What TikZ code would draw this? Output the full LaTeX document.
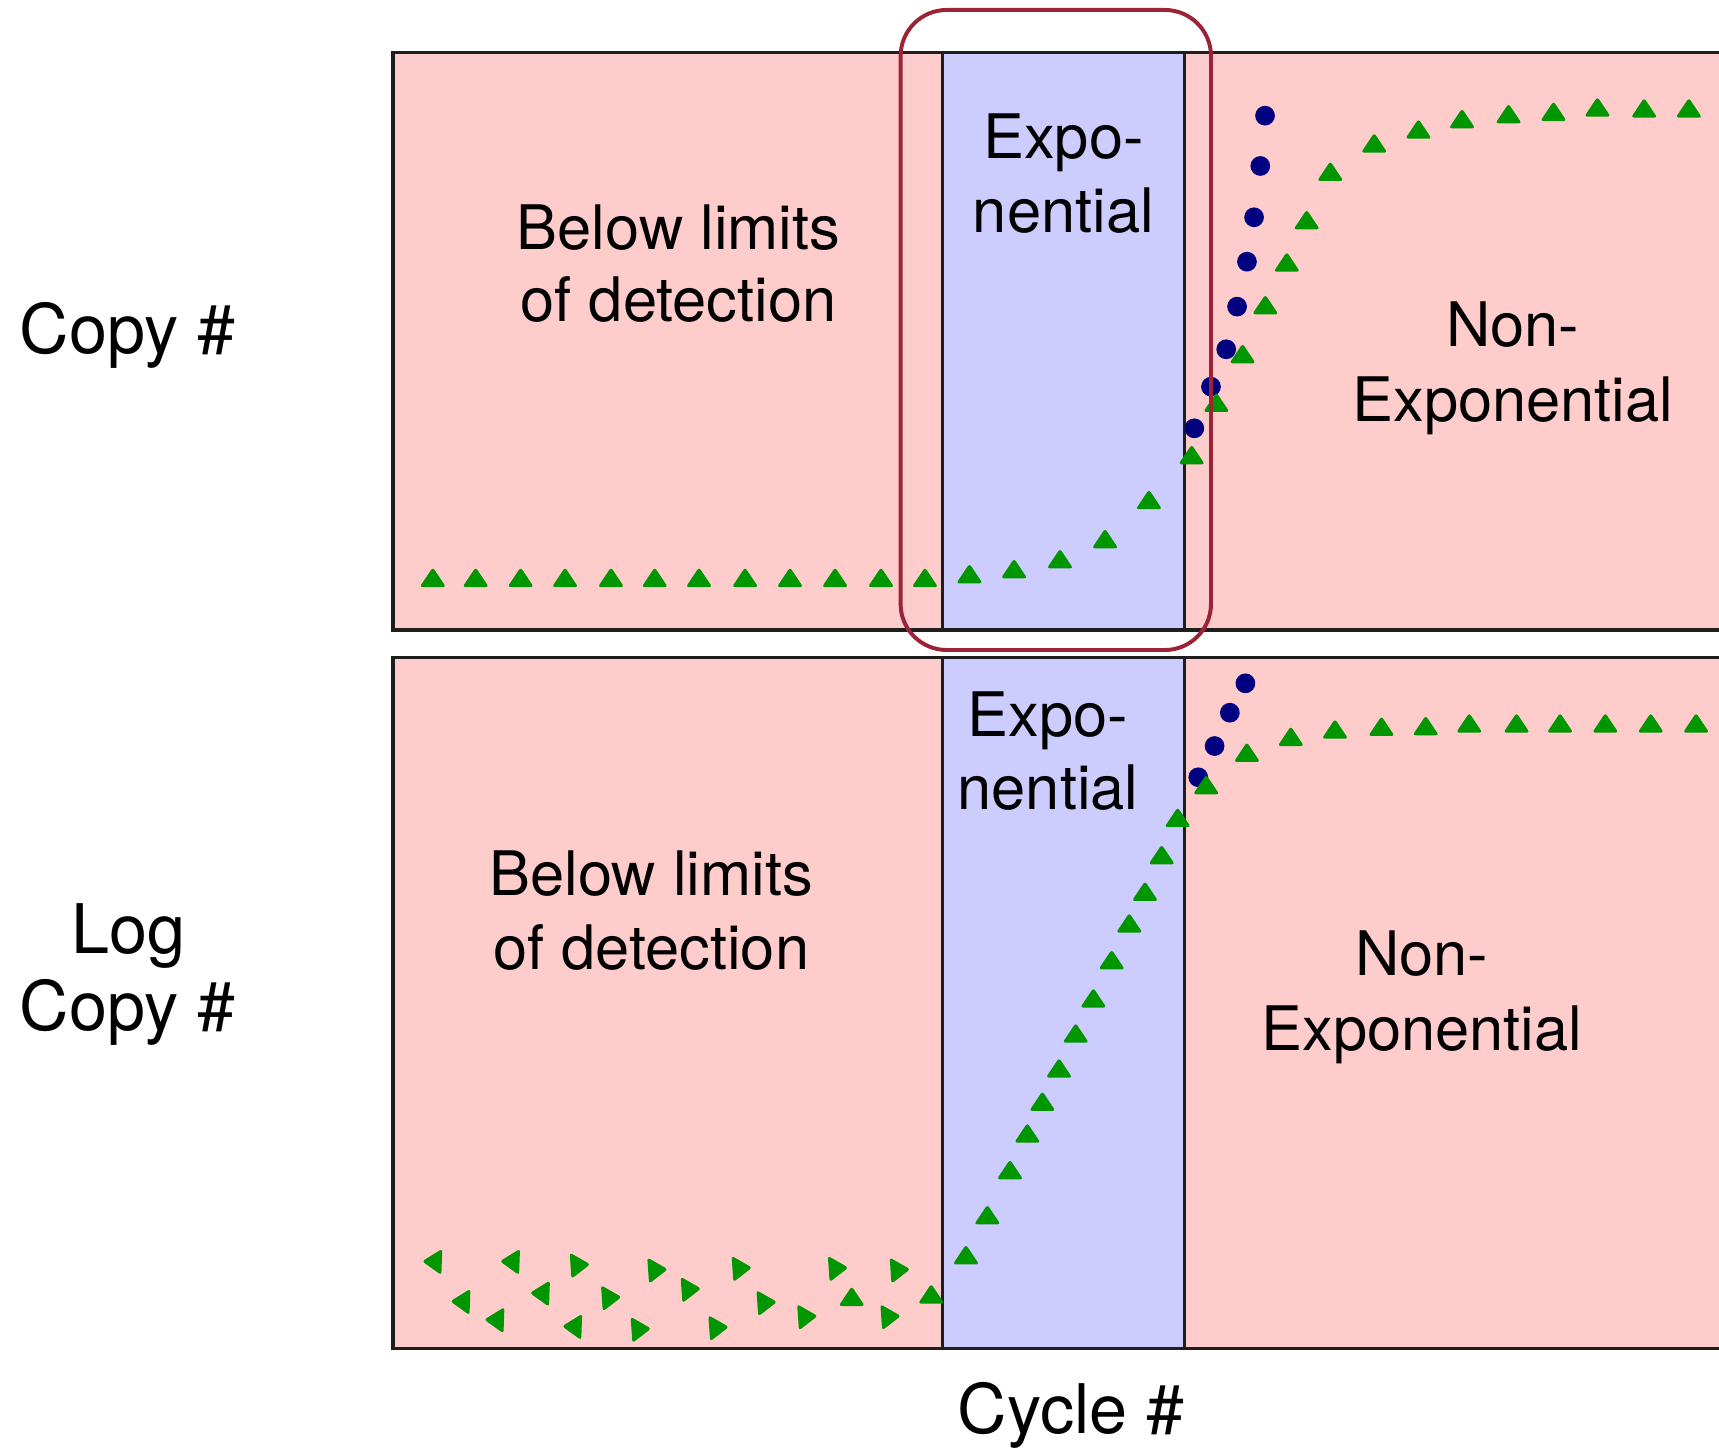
\documentclass[tikz,border=0pt]{standalone}
\usepackage{fontspec}
\setmainfont{TeX Gyre Heros}
\definecolor{pinkc}{RGB}{255,204,204}
\definecolor{bluec}{RGB}{204,204,255}
\definecolor{trigreen}{RGB}{0,150,0}
\definecolor{dotnavy}{RGB}{0,0,128}
\definecolor{redc}{RGB}{155,35,53}
\definecolor{edgec}{RGB}{30,30,30}
\tikzset{
  panel/.style={draw=edgec, line width=1.5pt},
  bandline/.style={draw=edgec, line width=1.2pt},
  lbl/.style={anchor=base, inner sep=0pt, font=\fontsize{28}{33}\selectfont},
  axl/.style={anchor=base, inner sep=0pt, font=\fontsize{31.2}{37}\selectfont},
  tri/.pic={\fill[trigreen, rounded corners=1.3pt] (-12,8.5) -- (12,8.5) -- (0,-9.5) -- cycle;},
  dot/.style={fill=dotnavy}
}
\begin{document}
\begin{tikzpicture}[x=0.5pt,y=-0.5pt]
\useasboundingbox (0,0) rectangle (1568,1320);
\clip (0,0) rectangle (1568,1320);
% top panel
\fill[pinkc] (358.5,47.7) rectangle (1600,574.7);
\fill[bluec] (859.5,47.7) rectangle (1080.3,574.7);
\draw[bandline] (859.5,47.7) -- (859.5,574.7);
\draw[bandline] (1080.3,47.7) -- (1080.3,574.7);
\draw[panel] (358.5,47.7) rectangle (1600,574.7);
% bottom panel
\fill[pinkc] (358.5,599.6) rectangle (1600,1229.9);
\fill[bluec] (859.5,599.6) rectangle (1080.3,1229.9);
\draw[bandline] (859.5,599.6) -- (859.5,1229.9);
\draw[bandline] (1080.3,599.6) -- (1080.3,1229.9);
\draw[panel] (358.5,599.6) rectangle (1600,1229.9);
% circles
\foreach \x/\y in {1089.4/390.7, 1104.6/352.7, 1118.5/318.6, 1128.4/279.7, 1137.4/238.7, 1143.9/198.2, 1149.6/151.4, 1153.9/105.5,
  1093/709, 1107.9/680.5, 1121.8/650.1, 1136/623.3}
  \fill[dot] (\x,\y) circle[radius=9];
% top triangles
\foreach \x in {394.8,433.9,474.9,515.4,557.3,597.2,637.6,679.6,720.6,761.7,803.6,843.7}
  \pic at (\x,527) {tri};
\foreach \x/\y in {884.3/523.6, 925/519, 966.9/510, 1008/491.6, 1048/456, 1087/415, 1109.5/367.3, 1133.4/322.9, 1154.2/278.2, 1173.8/239.3, 1191.9/200.7, 1213.4/156.6, 1253.5/130.7, 1293.9/118, 1333.6/108.5, 1376/104, 1417/101.9, 1457.1/97.9, 1499.7/98.8, 1540.5/98.8, 1581/98}
  \pic at (\x,\y) {tri};
% bottom triangles
\foreach \x/\y in {881.1/1144.8, 900.6/1108.3, 921.3/1067.2, 937.1/1033.8, 950.8/1004.9, 966/974.5, 981.2/942.6, 997.3/910.6, 1014/875.7, 1030.1/842.2, 1044.4/813.3, 1059.6/779.9, 1074.2/745.9, 1100.2/716, 1137.4/686.5, 1177.4/672, 1217.7/665.3, 1260.1/662.8, 1300.5/662.2, 1340.2/659.8, 1383.3/659.8, 1423/659.8, 1464.3/659.8, 1505.7/659.8, 1547.1/659.8, 1588/659.8,
  776.9/1182.8, 849.4/1180.6}
  \pic at (\x,\y) {tri};
\foreach \x/\y in {394.5/1150.8, 465.4/1150.8, 420.2/1187.3, 492.7/1179.7, 451.2/1204, 522.1/1210.1}
  \pic[rotate=88] at (\x,\y) {tri};
\foreach \x/\y in {528.9/1153.9, 599.7/1158.4, 676.6/1156.9, 764.4/1156.9, 820.8/1158.4, 557.5/1183.7, 630.1/1176, 699.3/1188.2, 584.5/1212.5, 655.4/1211, 736.4/1201, 812.3/1201}
  \pic[rotate=-86] at (\x,\y) {tri};
% highlight
\draw[redc, line width=1.8pt, rounded corners=21pt] (821.5,9.1) rectangle (1104.6,592.9);
% labels
\node[lbl] (tb1) at (619,227.4) {Below limits};
\node[lbl] (tb2) at (619,293.4) {of detection};
\node[lbl] (te1) at (970,145) {Expo-};
\node[lbl] (te2) at (970,212) {nential};
\node[lbl] (tn1) at (1380,316.2) {Non-};
\node[lbl] (tn2) at (1380,384.6) {Exponential};
\node[lbl] (be1) at (956,672) {Expo-};
\node[lbl] (be2) at (956,738) {nential};
\node[lbl] (bb1) at (594,817) {Below limits};
\node[lbl] (bb2) at (594,884) {of detection};
\node[lbl] (bn1) at (1297,890) {Non-};
\node[lbl] (bn2) at (1297,958) {Exponential};
\node[axl] (ya) at (116.5,322) {Copy \#};
\node[axl] (yb1) at (117,870) {Log};
\node[axl] (yb2) at (116.5,940) {Copy \#};
\node[axl] (xa) at (977,1308) {Cycle \#};
\end{tikzpicture}
\end{document}
